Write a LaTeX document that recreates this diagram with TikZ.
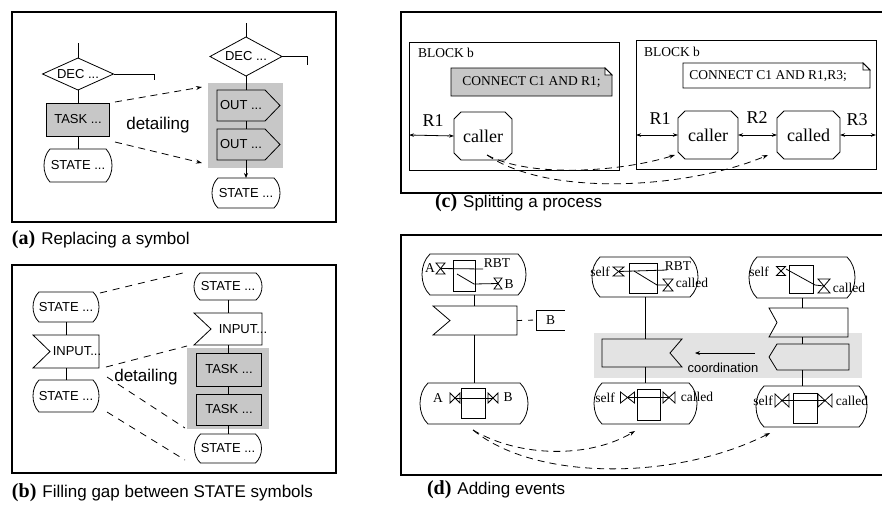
\documentclass[tikz,border=0pt]{standalone}
\usepackage{fontspec}
\setsansfont{Liberation Sans}
\newfontfamily\timesf{Liberation Serif}
\usetikzlibrary{arrows.meta,calc}

\colorlet{shadeA}{black!22}
\colorlet{shadeD}{black!11}

\newcommand\sflab{\sffamily\fontsize{13}{15}\selectfont}
\newcommand\sfbig{\sffamily\fontsize{17}{20}\selectfont}
\newcommand\serlab{\timesf\fontsize{13.5}{16}\selectfont}
\newcommand\serbig{\timesf\fontsize{18}{21}\selectfont}
\newcommand\caplab{\timesf\bfseries\fontsize{20}{23}\selectfont}
\newcommand\captxt{\sffamily\fontsize{17}{20}\selectfont}

% SDL state symbol: straight top and bottom, bulging sides
\newcommand\drawstate[2][7]{\draw[outl]
  ($(#2.north west)+(#1,0)$) -- ($(#2.north east)+(-#1,0)$)
  .. controls ($(#2.north east)!0.25!(#2.south east)+(#1/3,0)$) and ($(#2.north east)!0.75!(#2.south east)+(#1/3,0)$) .. ($(#2.south east)+(-#1,0)$)
  -- ($(#2.south west)+(#1,0)$)
  .. controls ($(#2.north west)!0.75!(#2.south west)+(-#1/3,0)$) and ($(#2.north west)!0.25!(#2.south west)+(-#1/3,0)$) .. cycle;}
% process symbol with cut corners
\newcommand\drawoct[2][7]{\draw[outl]
  ($(#2.north west)+(#1,0)$) -- ($(#2.north east)+(-#1,0)$) -- ($(#2.north east)+(0,#1)$)
  -- ($(#2.south east)+(0,-#1)$) -- ($(#2.south east)+(-#1,0)$) -- ($(#2.south west)+(#1,0)$)
  -- ($(#2.south west)+(0,-#1)$) -- ($(#2.north west)+(0,#1)$) -- cycle;}
% input symbol, notch on the left
\newcommand\drawinput[2][16]{\draw[outl] (#2.north west) -- (#2.north east) -- (#2.south east) -- (#2.south west) -- ($(#2.west)+(#1,0)$) -- cycle;}
% input symbol, notch on the right
\newcommand\drawrinput[2][12]{\draw[outl] (#2.north west) -- (#2.north east) -- ($(#2.east)+(-#1,0)$) -- (#2.south east) -- (#2.south west) -- cycle;}
% output symbol pointing right (node is the rectangular body)
\newcommand\drawout[2][15]{\draw[outl] (#2.north west) -- (#2.north east) -- ($(#2.east)+(#1,0)$) -- (#2.south east) -- (#2.south west) -- cycle;}
% output symbol pointing left (node is the rectangular body)
\newcommand\drawlout[2][8]{\draw[outl] (#2.north east) -- (#2.north west) -- ($(#2.west)+(-#1,0)$) -- (#2.south west) -- (#2.south east) -- cycle;}
\newcommand\drawdiam[1]{\draw[outl] (#1.west) -- (#1.north) -- (#1.east) -- (#1.south) -- cycle;}
\newcommand\drawhg[1]{\draw[outl] (#1.north west) -- (#1.north east) -- (#1.south west) -- (#1.south east) -- cycle;}
\newcommand\drawbt[1]{\draw[outl] (#1.north west) -- (#1.south west) -- (#1.north east) -- (#1.south east) -- cycle;}
% comment note with folded corner: node, fold size, fill options
\newcommand\drawnote[3]{\draw[outl,#3] (#1.north west) -- ($(#1.north east)+(-#2,0)$) -- ($(#1.north east)+(0,#2)$) -- (#1.south east) -- (#1.south west) -- cycle;
  \draw[outl,fill=white] ($(#1.north east)+(-#2,0)$) -- ($(#1.north east)+(-#2,#2)$) -- ($(#1.north east)+(0,#2)$) -- cycle;}

\begin{document}
\begin{tikzpicture}[x=1pt,y=-1pt,
  outl/.style={line width=0.8pt,draw=black},
  frm/.style={line width=2.8pt},
  box/.style 2 args={minimum width=#1,minimum height=#2,inner sep=0pt,outer sep=0pt},
  darr/.style={outl,dash pattern=on 7pt off 5pt,-{Stealth[length=6pt,width=4pt]}},
  dln/.style={outl,dash pattern=on 7pt off 6pt},
  dbl/.style={outl,{Stealth[length=5pt,width=3.5pt]}-{Stealth[length=5pt,width=3.5pt]}},
  txt/.style={inner sep=0pt,outer sep=0pt}]
\useasboundingbox (0,0) rectangle (882,504);
\fill[white] (0,0) rectangle (882,504);

%% ---------------- (a) Replacing a symbol ----------------
\draw[frm] (12,12) rectangle (336,222);
\node[box={71}{32},font=\sflab] (da1) at (78,74) {DEC ...};
\drawdiam{da1}
\coordinate (da1top) at (78,43);
\coordinate (da1end) at (154,80);
\draw[outl] (da1top) -- (da1.north);
\draw[outl] (da1.east) -| (da1end);
\node[box={63}{33},font=\sflab,outl,fill=shadeA] (ta1) at (78,119.5) {TASK ...};
\node[box={68}{33},font=\sflab] (sa1) at (78,165.5) {STATE ...};
\drawstate[6]{sa1}
\draw[outl] (da1.south) -- (ta1.north);
\draw[outl] (ta1.south) -- (sa1.north);

\node[box={75}{85},fill=shadeA] (shA) at (245.5,125.5) {};
\node[box={72}{39},font=\sflab] (da2) at (246,56.5) {DEC ...};
\drawdiam{da2}
\coordinate (da2top) at (246,23);
\coordinate (da2end) at (307,65);
\draw[outl] (da2top) -- (da2.north);
\draw[outl] (da2.east) -| (da2end);
\node[box={48}{31},font=\sflab] (oa1) at (241,105.5) {OUT ...};
\drawout{oa1}
\node[box={48}{31},font=\sflab] (oa2) at (241,144.5) {OUT ...};
\drawout{oa2}
\node[box={68}{30},font=\sflab] (sa2) at (246,193) {STATE ...};
\drawstate[6]{sa2}
\draw[outl] (da2.south) -- (da2.south |- oa1.north);
\draw[outl] (da2.south |- oa1.south) -- (da2.south |- oa2.north);
\draw[outl,-{Stealth[length=5pt,width=4pt]}] (da2.south |- oa2.south) -- (sa2.north);

\coordinate (aa1) at (115,102);
\coordinate (aa2) at (202,87);
\coordinate (aa3) at (115,142);
\coordinate (aa4) at (202,163);
\draw[darr] (aa1) -- (aa2);
\draw[darr] (aa3) -- (aa4);
\node[txt,font=\sfbig] (deta) at (158,125) {detailing};

\node[txt,anchor=base west] (capa) at (12,244) {{\caplab (a)}\hspace{6pt}{\captxt Replacing a symbol}};

%% ---------------- (b) Filling gap between STATE symbols ----------------
\draw[frm] (12,265) rectangle (336,473);
\node[box={66}{30},font=\sflab] (sb1) at (66,307) {STATE ...};
\drawstate[6]{sb1}
\node[box={66}{33}] (ib1) at (66,351.5) {};
\drawinput[17]{ib1}
\node[txt,font=\sflab] (ib1t) at (77,351.5) {INPUT...};
\node[box={66}{32},font=\sflab] (sb2) at (66,396) {STATE ...};
\drawstate[6]{sb2}
\draw[outl] (sb1.south) -- (ib1.north);
\draw[outl] (ib1.south) -- (sb2.north);

\node[box={82}{81},fill=shadeA] (shB) at (228,388.5) {};
\node[box={68}{27},font=\sflab] (sb3) at (228,286.5) {STATE ...};
\drawstate[6]{sb3}
\node[box={68}{32}] (ib2) at (228,329) {};
\drawinput[17]{ib2}
\node[txt,font=\sflab] (ib2t) at (243,329) {INPUT...};
\node[box={65}{33},font=\sflab,outl] (tb1) at (229,369.5) {TASK ...};
\node[box={65}{31},font=\sflab,outl] (tb2) at (229,409.5) {TASK ...};
\node[box={67}{29},font=\sflab] (sb4) at (228,448.5) {STATE ...};
\drawstate[6]{sb4}
\draw[outl] (sb3.south) -- (ib2.north);
\draw[outl] (ib2.south) -- (ib2.south |- tb1.north);
\draw[outl] (ib2.south |- tb1.south) -- (ib2.south |- tb2.north);
\draw[outl] (ib2.south |- tb2.south) -- (sb4.north);

\coordinate (bl1a) at (100,293); \coordinate (bl1b) at (187,272);
\coordinate (bl2a) at (106,367); \coordinate (bl2b) at (187,346);
\coordinate (bl3a) at (107,377); \coordinate (bl3b) at (185,428);
\coordinate (bl4a) at (107,412); \coordinate (bl4b) at (185,460);
\draw[dln] (bl1a) -- (bl1b);
\draw[dln] (bl2a) -- (bl2b);
\draw[dln] (bl3a) -- (bl3b);
\draw[dln] (bl4a) -- (bl4b);
\node[txt,font=\sfbig] (detb) at (146,377) {detailing};

\node[txt,anchor=base west] (capb) at (12,497) {{\caplab (b)}\hspace{6pt}{\captxt Filling gap between STATE symbols}};

%% ---------------- (c) Splitting a process ----------------
\draw[frm] (401,12) rectangle (886,193);
\node[box={210}{128},outl] (blk1) at (514,106) {};
\node[txt,anchor=west,font=\serlab] (blk1t) at (418,53) {BLOCK b};
\node[box={161}{28},font=\serlab] (nc1) at (531.5,82) {};
\drawnote{nc1}{7}{fill=shadeA}
\node[txt,font=\serlab] (nc1t) at (531.5,82) {CONNECT C1 AND R1;};
\node[box={58}{48},font=\serbig] (cal1) at (483,136) {caller};
\drawoct{cal1}
\coordinate (r1a) at (409,135);
\draw[dbl] (r1a) -- (cal1.west);
\node[txt,font=\serbig] (r1al) at (433,121) {R1};

\node[box={240}{129},outl] (blk2) at (756,104.5) {};
\node[txt,anchor=west,font=\serlab] (blk2t) at (644,52) {BLOCK b};
\node[box={187}{25}] (nc2) at (776.5,75.5) {};
\drawnote{nc2}{7}{fill=white}
\node[txt,font=\serlab] (nc2t) at (768,76) {CONNECT C1 AND R1,R3;};
\node[box={60}{48},font=\serbig] (cal2) at (708,135) {caller};
\drawoct{cal2}
\node[box={63}{48},font=\serbig] (cld) at (808.5,135) {called};
\drawoct{cld}
\coordinate (r1b) at (636,135);
\coordinate (r3b) at (876,135);
\draw[dbl] (r1b) -- (cal2.west);
\draw[dbl] (cal2.east) -- (cld.west);
\draw[dbl] (cld.east) -- (r3b);
\node[txt,font=\serbig] (r1bl) at (660,119) {R1};
\node[txt,font=\serbig] (r2l) at (757,118) {R2};
\node[txt,font=\serbig] (r3l) at (857,120) {R3};

\coordinate (cs) at (487,155);
\coordinate (ce1) at (675,155);
\coordinate (ce2) at (768,155);
\draw[darr] (cs) .. controls (530,178) and (620,172) .. (ce1);
\draw[darr] (cs) .. controls (550,198) and (690,188) .. (ce2);

\node[txt,anchor=base west] (capc) at (435,207) {{\caplab (c)}\hspace{6pt}{\captxt Splitting a process}};

%% ---------------- (d) Adding events ----------------
\draw[frm] (401,235) rectangle (886,475);
\node[box={268}{45},fill=shadeD] (shD) at (728,355.5) {};

% left column
\node[box={104}{41}] (sd1) at (474,274.5) {};
\drawstate[8]{sd1}
\node[box={22}{31},outl] (bxd1) at (464,275.5) {};
\node[box={9}{11}] (hgA) at (440.5,268.5) {};
\drawhg{hgA}
\node[txt,font=\serlab] (la1) at (430,268) {A};
\coordinate (rbt1) at (483,269);
\draw[outl] (hgA.center) -- (rbt1);
\node[txt,font=\serlab] (rbt1l) at (497,263) {RBT};
\node[box={8}{11}] (hgB) at (498,283.5) {};
\drawhg{hgB}
\coordinate (dg1a) at (457,274);
\coordinate (dg1b) at (474,284);
\draw[outl] (dg1a) -- (dg1b) -- (hgB.center);
\node[txt,font=\serlab] (lb1) at (509,284) {B};
\node[box={84}{29}] (id1) at (475,320.5) {};
\drawinput[17]{id1}
\node[box={29}{20},font=\serlab] (bxB) at (550.5,320) {B};
\draw[outl] (bxB.north east) -- (bxB.north west) -- (bxB.south west) -- (bxB.south east);
\draw[outl,dash pattern=on 5pt off 6pt] (id1.east) -- (bxB.west);
\node[box={108}{41}] (sd2) at (474,403.5) {};
\drawstate[8]{sd2}
\node[box={24}{30},outl] (bxd2) at (473,403) {};
\node[box={10}{10}] (btA) at (455,398) {};
\drawbt{btA}
\node[box={10}{10}] (btB) at (493,398) {};
\drawbt{btB}
\draw[outl] (btA.center) -- (btB.center);
\node[txt,font=\serlab] (la2) at (438,398) {A};
\node[txt,font=\serlab] (lb2) at (508,397) {B};
\draw[outl] (sd1.south) -- (sd1.south |- id1.north);
\draw[outl] (sd1.south |- id1.south) -- (sd2.north);

% middle column
\node[box={106}{40}] (sm1) at (645,277) {};
\drawstate[8]{sm1}
\node[box={28}{30},outl] (bxm1) at (643,278) {};
\node[box={11}{9}] (hgS1) at (618.5,271.5) {};
\drawhg{hgS1}
\node[txt,font=\serlab] (ls1) at (600,272) {self};
\coordinate (rbt2) at (667,270);
\draw[outl] (hgS1.center) -- (rbt2);
\node[txt,font=\serlab] (rbt2l) at (678,266) {RBT};
\node[box={10}{12}] (hgC1) at (668,285) {};
\drawhg{hgC1}
\coordinate (dg2a) at (634,271);
\coordinate (dg2b) at (657,285);
\draw[outl] (dg2a) -- (dg2b) -- (hgC1.center);
\node[txt,font=\serlab] (lc1) at (692,283) {called};
\node[box={80}{28}] (cm) at (642,353) {};
\drawrinput[12]{cm}
\node[box={103}{41}] (sm2) at (645.5,403.5) {};
\drawstate[8]{sm2}
\node[box={23}{31},outl] (bxm2) at (648.5,404.5) {};
\node[box={14}{11}] (btS2) at (627.5,397.5) {};
\drawbt{btS2}
\node[box={12}{11}] (btC2) at (669,397.5) {};
\drawbt{btC2}
\draw[outl] (btS2.center) -- (btC2.center);
\node[txt,font=\serlab] (ls2) at (605,398) {self};
\node[txt,font=\serlab] (lc2) at (697,397) {called};
\draw[outl] (sm1.south) -- (sm1.south |- cm.north);
\draw[outl] (sm1.south |- cm.south) -- (sm1.south |- sm2.north);

\coordinate (coa) at (755,353);
\coordinate (cob) at (695,353);
\draw[outl,-{Stealth[length=5pt,width=4pt]}] (coa) -- (cob);
\node[txt,font=\sflab] (coord) at (723,368) {coordination};

% right column
\node[box={106}{41}] (sr1) at (802,277.5) {};
\drawstate[8]{sr1}
\node[box={24}{28},outl] (bxr1) at (801,279) {};
\node[box={9}{9}] (hgS3) at (781,271) {};
\drawhg{hgS3}
\node[txt,font=\serlab] (ls3) at (759,272) {self};
\node[box={12}{14}] (hgC3) at (824,286) {};
\drawhg{hgC3}
\coordinate (dg3a) at (786,269);
\coordinate (dg3b) at (815,285);
\draw[outl] (dg3a) -- (dg3b) -- (hgC3.center);
\node[txt,font=\serlab] (lc3) at (849,288) {called};
\node[box={79}{29}] (ir1) at (808.5,322.5) {};
\drawinput[8]{ir1}
\node[box={72}{26}] (lo1) at (813,357) {};
\drawlout[8]{lo1}
\node[box={111}{41}] (sr2) at (811.5,406.5) {};
\drawstate[8]{sr2}
\node[box={24}{30},outl] (bxr2) at (805,408) {};
\node[box={14}{13}] (btS3) at (782,400.5) {};
\drawbt{btS3}
\node[box={14}{13}] (btC3) at (825,400.5) {};
\drawbt{btC3}
\draw[outl] (btS3.center) -- (btC3.center);
\node[txt,font=\serlab] (ls4) at (763,401) {self};
\node[txt,font=\serlab] (lc4) at (852,401) {called};
\draw[outl] (sr1.south) -- (sr1.south |- ir1.north);
\draw[outl] (sr1.south |- ir1.south) -- (sr1.south |- lo1.north);
\draw[outl] (sr1.south |- lo1.south) -- (sr1.south |- sr2.north);

\coordinate (ds) at (473,430);
\coordinate (de1) at (635,431);
\coordinate (de2) at (770,433);
\draw[darr] (ds) .. controls (520,458) and (590,458) .. (de1);
\draw[darr] (ds) .. controls (535,481) and (675,481) .. (de2);

\node[txt,anchor=base west] (capd) at (427,494) {{\caplab (d)}\hspace{6pt}{\captxt Adding events}};
\end{tikzpicture}
\end{document}
